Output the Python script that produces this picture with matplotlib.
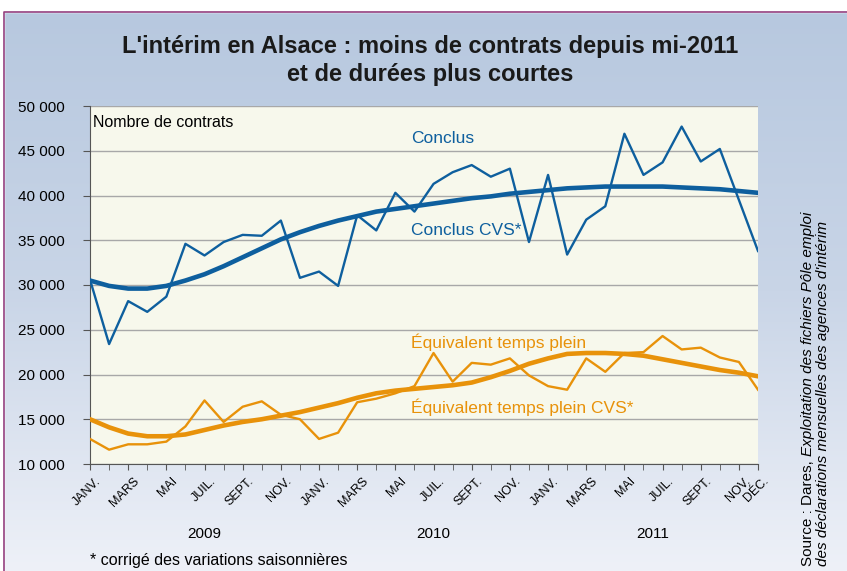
import numpy as np
import matplotlib
matplotlib.use("Agg")
import matplotlib.pyplot as plt
from matplotlib.patches import Rectangle
from matplotlib.ticker import FuncFormatter, MultipleLocator
from matplotlib.transforms import ScaledTranslation

plt.rcParams["font.family"] = ["Liberation Sans", "DejaVu Sans"]

# monthly values, Jan 2009 -> Dec 2011
conclus = [30600, 23400, 28200, 27000, 28700, 34600, 33300, 34800, 35600, 35500,
           37200, 30800, 31500, 29900, 37800, 36100, 40300, 38200, 41300, 42600,
           43400, 42100, 43000, 34800, 42300, 33400, 37300, 38800, 46900, 42300,
           43700, 47700, 43800, 45200, 39500, 33800]
conclus_cvs = [30500, 29900, 29600, 29600, 29900, 30500, 31200, 32100, 33100, 34100,
               35100, 35900, 36600, 37200, 37700, 38200, 38500, 38800, 39100, 39400,
               39700, 39900, 40200, 40400, 40600, 40800, 40900, 41000, 41000, 41000,
               41000, 40900, 40800, 40700, 40500, 40300]
etp = [12800, 11600, 12200, 12200, 12500, 14200, 17100, 14700, 16400, 17000,
       15500, 15000, 12800, 13500, 16900, 17300, 17900, 18700, 22400, 19200,
       21300, 21100, 21800, 19900, 18700, 18300, 21800, 20300, 22400, 22500,
       24300, 22800, 23000, 21900, 21400, 18300]
etp_cvs = [15000, 14100, 13400, 13100, 13100, 13300, 13800, 14300, 14700, 15000,
           15400, 15800, 16300, 16800, 17400, 17900, 18200, 18400, 18600, 18800,
           19100, 19700, 20400, 21200, 21800, 22300, 22400, 22400, 22300, 22100,
           21700, 21300, 20900, 20500, 20200, 19800]
month_labels = ["JANV.", "MARS", "MAI", "JUIL.", "SEPT.", "NOV."] * 3 + ["DÉC."]
years = ["2009", "2010", "2011"]

blue = "#0e5f9e"
orange = "#e8920a"

fig = plt.figure(figsize=(8.47, 5.71), dpi=100)

# background panel with gradient
bg = fig.add_axes([0, 0, 1, 1], zorder=-10)
grad = np.linspace(0, 1, 256).reshape(-1, 1)
cmap = matplotlib.colors.LinearSegmentedColormap.from_list(
    "bgc", ["#b7c8df", "#c9d5e7", "#eef1f8"])
bg.imshow(grad, aspect="auto", cmap=cmap, extent=[0, 1, 0, 1 - 12 / 571],
          origin="upper")
bg.add_patch(Rectangle((0, 1 - 12 / 571), 1, 12 / 571, color="white"))
bg.add_patch(Rectangle((0, 0), 4 / 847, 1, color="white"))
bg.plot([4 / 847, 4 / 847, 1], [0, 1 - 12 / 571, 1 - 12 / 571],
        color="#94407f", lw=1.2)
bg.set_xlim(0, 1)
bg.set_ylim(0, 1)
bg.axis("off")

ax = fig.add_axes([90 / 847, 1 - 464 / 571, 668 / 847, 358 / 571])
ax.set_facecolor("#f7f8ec")

x = np.arange(len(conclus))
ax.plot(x, conclus, color=blue, lw=1.7, zorder=3)
ax.plot(x, conclus_cvs, color=blue, lw=3.3, zorder=3)
ax.plot(x, etp, color=orange, lw=1.7, zorder=3)
ax.plot(x, etp_cvs, color=orange, lw=3.3, zorder=3)

ax.set_xlim(0, 35)
ax.set_ylim(10000, 50000)
ax.yaxis.set_major_locator(MultipleLocator(5000))
ax.yaxis.set_major_formatter(FuncFormatter(lambda v, p: f"{int(v):,}".replace(",", " ")))
ax.grid(axis="y", color="#a8a8a8", lw=1)
ax.set_axisbelow(True)

ticks = list(range(0, 35, 2)) + [35]
ax.set_xticks(ticks)
ax.set_xticklabels(month_labels, rotation=45, ha="right", va="top",
                   rotation_mode="anchor", fontsize=9)
ax.set_xticks(x, minor=True)
ax.tick_params(axis="x", which="both", length=4, color="#555555", pad=4)
ax.tick_params(axis="y", length=5, color="#555555", labelsize=11, pad=13)
shift = ScaledTranslation(5 / 100, 0, fig.dpi_scale_trans)
for lbl in ax.get_xticklabels():
    lbl.set_transform(lbl.get_transform() + shift)

for s in ["top", "right"]:
    ax.spines[s].set_visible(False)
ax.spines["left"].set_color("#555555")
ax.spines["bottom"].set_color("#555555")

for pos, yr in zip([6, 18, 29.5], years):
    ax.text(pos, -0.195, yr, transform=ax.get_xaxis_transform(),
            ha="center", va="center", fontsize=11)

ax.text(0.005, 0.955, "Nombre de contrats", transform=ax.transAxes,
        ha="left", va="center", fontsize=11.5)

ax.text(16.8, 46400, "Conclus", color=blue, fontsize=12.5, va="center")
ax.text(16.8, 36100, "Conclus CVS*", color=blue, fontsize=12.5, va="center")
ax.text(16.8, 23600, "Équivalent temps plein", color=orange, fontsize=12.5, va="center")
ax.text(16.8, 16300, "Équivalent temps plein CVS*", color=orange, fontsize=12.5, va="center")

fig.text(430 / 847, 1 - 46 / 571, "L'intérim en Alsace : moins de contrats depuis mi-2011",
         ha="center", va="center", fontsize=17, fontweight="bold", color="#1a1a1a")
fig.text(430 / 847, 1 - 74 / 571, "et de durées plus courtes",
         ha="center", va="center", fontsize=17, fontweight="bold", color="#1a1a1a")

fig.text(90 / 847, 1 - 560 / 571, "* corrigé des variations saisonnières",
         ha="left", va="center", fontsize=11.5)

t1 = fig.text(808 / 847, 1 - 566 / 571, "Source : Dares, ", rotation=90,
              ha="center", va="bottom", fontsize=11)
ax.annotate("Exploitation des fichiers Pôle emploi", xy=(0.5, 1), xycoords=t1,
            rotation=90, ha="center", va="bottom", fontsize=11, style="italic",
            annotation_clip=False)
fig.text(823 / 847, 1 - 566 / 571, "des déclarations mensuelles des agences d'intérim",
         rotation=90, ha="center", va="bottom", fontsize=11, style="italic")

fig.savefig("out.png", dpi=100)
